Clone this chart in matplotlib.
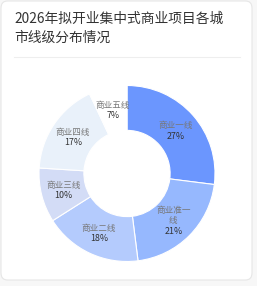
import numpy as np
import matplotlib
matplotlib.use("Agg")
import matplotlib.pyplot as plt
from matplotlib.patches import FancyBboxPatch
from matplotlib.lines import Line2D

plt.rcParams['font.family'] = ['Noto Sans CJK SC', 'DejaVu Sans']

# data (clockwise from 12 o'clock)
categories = ["商业一线", "商业准一线", "商业二线", "商业三线", "商业四线", "商业五线"]
label_text = ["商业一线", "商业准一\n线", "商业二线", "商业三线", "商业四线", "商业五线"]
shares = [27, 21, 18, 10, 17, 7]
colors = ["#6b96fe", "#96b8fe", "#b4cbfd", "#d3dcf6", "#e9f1fa", "#ffffff"]

W, H = 257, 286
fig = plt.figure(figsize=(W / 100, H / 100), dpi=100)
fig.patch.set_facecolor("#f7f7f7")

# card background
card = FancyBboxPatch((1 / W, 6 / H), 251 / W, 279 / H,
                      boxstyle="round,pad=0,rounding_size=0.025",
                      transform=fig.transFigure, facecolor="white",
                      edgecolor="#e6e6e6", linewidth=0.8, zorder=-5)
fig.patches.append(card)

fig.text(14 / W, 1 - 12 / H, "2026年拟开业集中式商业项目各城\n市线级分布情况",
         ha="left", va="top", fontsize=9.9, color="#333333", linespacing=1.45)
fig.lines.append(Line2D([14 / W, 240 / W], [1 - 57 / H, 1 - 57 / H],
                        transform=fig.transFigure, color="#eeeeee", linewidth=0.8))

# donut
cx, cy, r = 127, 173.5, 88
ax = fig.add_axes([(cx - r) / W, (H - cy - r) / H, 2 * r / W, 2 * r / H])
ax.set_zorder(2)
wedges, _ = ax.pie(shares, colors=colors, startangle=90, counterclock=False,
                   radius=1, wedgeprops=dict(width=0.51, edgecolor="white", linewidth=0.8))
ax.set_xlim(-1, 1)
ax.set_ylim(-1, 1)
ax.set_aspect("equal")
ax.axis("off")

total = sum(shares)
start = 90
lr = 0.745
for name, val in zip(label_text, shares):
    mid = start - val / total * 360 / 2
    start -= val / total * 360
    x = lr * np.cos(np.radians(mid))
    y = lr * np.sin(np.radians(mid))
    nl = name.count("\n") + 1
    shift = -(nl - 1) * 4
    ax.annotate(name, (x, y), xytext=(0, shift), textcoords="offset points",
                ha="center", va="bottom", fontsize=6.2, color="#777777", linespacing=1.2)
    ax.annotate(f"{val}%", (x, y), xytext=(0, shift - 1), textcoords="offset points",
                ha="center", va="top", fontsize=6.4, color="#333333")

fig.savefig("out.png", dpi=100, facecolor=fig.get_facecolor())
